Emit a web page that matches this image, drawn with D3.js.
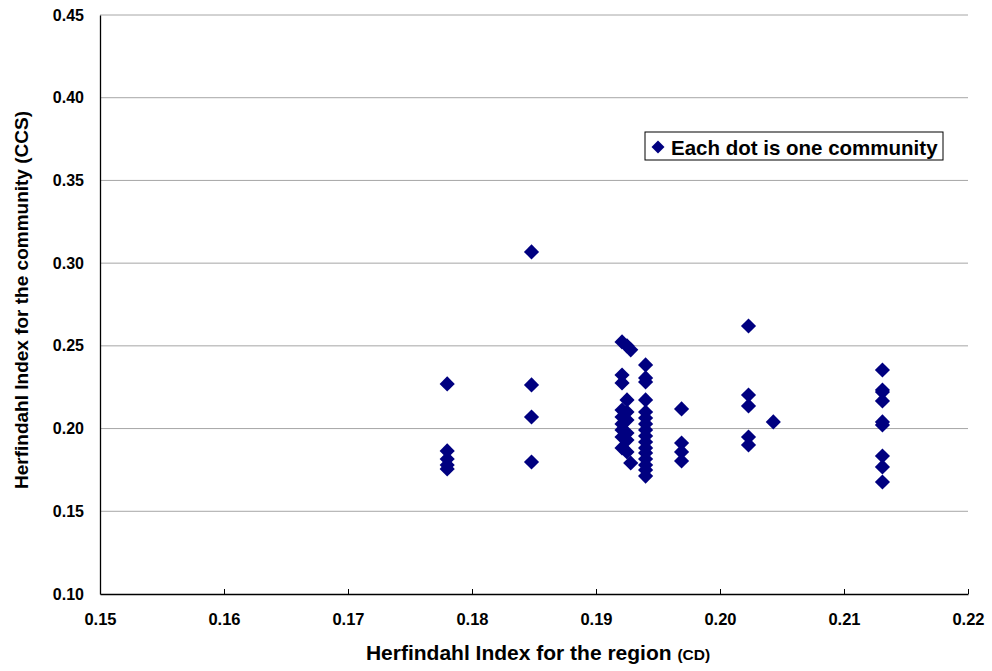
<!DOCTYPE html>
<html>
<head>
<meta charset="utf-8">
<script src="https://cdn.jsdelivr.net/npm/d3@7"></script>
<style>
  html, body { margin: 0; padding: 0; background: #fff; }
  svg { display: block; font-family: "Liberation Sans", Arial, sans-serif; }
</style>
</head>
<body>
<svg id="chart" width="992" height="671"></svg>
<script>
// Regional Herfindahl index (CD) for each community's region
const regionHI = [
  0.1780, 0.1780, 0.1780, 0.1780, 0.1780,
  0.1848, 0.1848, 0.1848, 0.1848,
  0.1921, 0.1921, 0.1921, 0.1921, 0.1921, 0.1921, 0.1921, 0.1921, 0.1921,
  0.1925, 0.1925, 0.1925, 0.1925, 0.1925, 0.1925, 0.1925,
  0.1928, 0.1928,
  0.1940, 0.1940, 0.1940, 0.1940, 0.1940, 0.1940, 0.1940, 0.1940,
  0.1940, 0.1940, 0.1940, 0.1940, 0.1940, 0.1940, 0.1940, 0.1940,
  0.1969, 0.1969, 0.1969, 0.1969,
  0.2023, 0.2023, 0.2023, 0.2023, 0.2023,
  0.2043,
  0.2131, 0.2131, 0.2131, 0.2131, 0.2131, 0.2131, 0.2131, 0.2131, 0.2131
];
// Herfindahl index of the community itself (CCS)
const communityHI = [
  0.2270, 0.1865, 0.1816, 0.1780, 0.1756,
  0.3068, 0.2264, 0.2070, 0.1798,
  0.2524, 0.2324, 0.2276, 0.2112, 0.2070, 0.2028, 0.1992, 0.1949, 0.1883,
  0.2500, 0.2173, 0.2100, 0.2052, 0.1973, 0.1931, 0.1859,
  0.2476, 0.1792,
  0.2385, 0.2306, 0.2282, 0.2173, 0.2100, 0.2064, 0.2028, 0.1992,
  0.1955, 0.1919, 0.1883, 0.1853, 0.1816, 0.1780, 0.1750, 0.1713,
  0.2119, 0.1913, 0.1859, 0.1804,
  0.2620, 0.2203, 0.2137, 0.1949, 0.1901,
  0.2040,
  0.2354, 0.2233, 0.2221, 0.2167, 0.2040, 0.2022, 0.1834, 0.1768, 0.1677
];
const xTicks = [0.15, 0.16, 0.17, 0.18, 0.19, 0.20, 0.21, 0.22];
const yTicks = [0.10, 0.15, 0.20, 0.25, 0.30, 0.35, 0.40, 0.45];
const legendLabel = "Each dot is one community";

const svg = d3.select("#chart");
const plot = { left: 100, right: 968, top: 15, bottom: 594 };
const navy = "#000080";

const x = d3.scaleLinear().domain([0.15, 0.22]).range([plot.left, plot.right]);
const y = d3.scaleLinear().domain([0.10, 0.45]).range([plot.bottom, plot.top]);

// horizontal gridlines
svg.append("g")
  .selectAll("line")
  .data(yTicks.slice(1))
  .join("line")
  .attr("x1", plot.left).attr("x2", plot.right)
  .attr("y1", d => y(d)).attr("y2", d => y(d))
  .attr("stroke", "#a6a6a6").attr("stroke-width", 1);

// x axis (ticks point into the plot)
const xAxis = svg.append("g")
  .attr("transform", `translate(0,${plot.bottom})`)
  .call(d3.axisBottom(x).tickValues(xTicks).tickFormat(d3.format(".2f")).tickSizeInner(-5).tickSizeOuter(0).tickPadding(19));
xAxis.select(".domain").attr("stroke", "#000").attr("stroke-width", 1.3);
xAxis.selectAll(".tick line").attr("stroke", "#000");
xAxis.selectAll("text").attr("font-size", 16.5).attr("font-weight", "bold").attr("fill", "#000");

// y axis
const yAxis = svg.append("g")
  .attr("transform", `translate(${plot.left},0)`)
  .call(d3.axisLeft(y).tickValues(yTicks).tickFormat(d3.format(".2f")).tickSizeInner(0).tickSizeOuter(0).tickPadding(16));
yAxis.select(".domain").attr("stroke", "#000").attr("stroke-width", 1.3);
yAxis.selectAll("text").attr("font-size", 16).attr("font-weight", "bold").attr("fill", "#000");

// community points
const diamond = d3.symbol().type(d3.symbolSquare).size(115);
svg.append("g")
  .selectAll("path")
  .data(regionHI.map((v, i) => [v, communityHI[i]]))
  .join("path")
  .attr("d", diamond)
  .attr("transform", d => `translate(${x(d[0])},${y(d[1])}) rotate(45)`)
  .attr("fill", navy);

// legend
const lg = svg.append("g").attr("transform", "translate(645,132)");
lg.append("rect").attr("width", 298).attr("height", 28)
  .attr("fill", "#fff").attr("stroke", "#000").attr("stroke-width", 1);
lg.append("path").attr("d", d3.symbol().type(d3.symbolSquare).size(85))
  .attr("transform", "translate(13,15) rotate(45)").attr("fill", navy);
lg.append("text").attr("x", 26).attr("y", 23)
  .attr("font-size", 20.5).attr("font-weight", "bold").text(legendLabel);

// axis titles
const xt = svg.append("text").attr("x", 538).attr("y", 660)
  .attr("text-anchor", "middle").attr("font-weight", "bold").attr("font-size", 21);
xt.append("tspan").text("Herfindahl Index for the region ");
xt.append("tspan").attr("font-size", 15.5).text("(CD)");

svg.append("text")
  .attr("transform", "translate(28,300) rotate(-90)")
  .attr("text-anchor", "middle").attr("font-weight", "bold").attr("font-size", 19)
  .text("Herfindahl Index for the community (CCS)");
</script>
</body>
</html>
